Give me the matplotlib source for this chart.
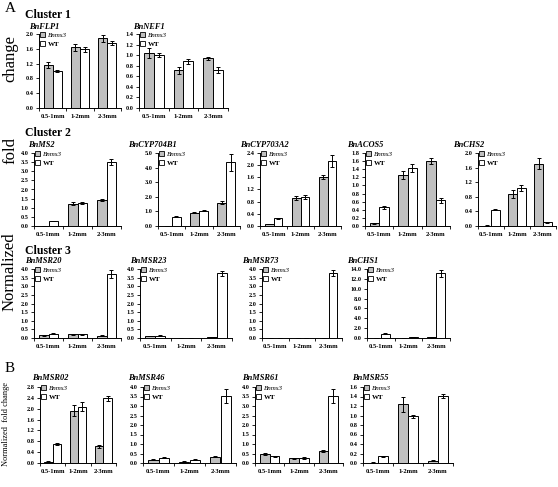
import matplotlib
matplotlib.use('Agg')
import matplotlib.pyplot as plt
from matplotlib.patches import Patch
import numpy as np

plt.rcParams['font.family'] = ['Liberation Serif', 'DejaVu Serif']

stages = ['0.5-1mm', '1-2mm', '2-3mm']
series = ['Bnms3', 'WT']

genes = ['BnFLP1', 'BnNEF1',
         'BnMS2', 'BnCYP704B1', 'BnCYP703A2', 'BnACOS5', 'BnCHS2',
         'BnMSR20', 'BnMSR23', 'BnMSR73', 'BnCHS1',
         'BnMSR02', 'BnMSR46', 'BnMSR61', 'BnMSR55']

bnms3 = [[1.17, 1.64, 1.88], [1.04, 0.71, 0.94],
         [0.02, 1.22, 1.42], [0.02, 0.92, 1.60], [0.06, 0.93, 1.60],
         [0.07, 1.26, 1.60], [0.01, 0.88, 1.70],
         [0.15, 0.22, 0.14], [0.12, 0.02, 0.05], [0.02, 0.02, 0.02],
         [0.05, 0.05, 0.15],
         [0.05, 1.92, 0.62], [0.17, 0.07, 0.33], [0.47, 0.25, 0.65],
         [0.01, 1.24, 0.05]]
bnms3_err = [[0.08, 0.10, 0.10], [0.10, 0.06, 0.03],
             [0.005, 0.08, 0.05], [0.01, 0.05, 0.10], [0.01, 0.06, 0.07],
             [0.01, 0.10, 0.07], [0.005, 0.10, 0.15],
             [0.02, 0.02, 0.02], [0.02, 0.005, 0.01], [0.005, 0.005, 0.005],
             [0.02, 0.02, 0.05],
             [0.01, 0.20, 0.06], [0.02, 0.01, 0.02], [0.06, 0.02, 0.05],
             [0.005, 0.16, 0.01]]
wt = [[0.99, 1.59, 1.76], [1.00, 0.88, 0.72],
      [0.28, 1.25, 3.50], [0.65, 1.05, 4.35], [0.25, 0.95, 2.15],
      [0.46, 1.42, 0.63], [0.45, 1.04, 0.10],
      [0.25, 0.22, 3.72], [0.12, 0.02, 3.75], [0.02, 0.02, 3.75],
      [0.85, 0.20, 13.1],
      [0.69, 2.08, 2.38], [0.28, 0.18, 3.52], [0.35, 0.27, 3.52],
      [0.14, 0.98, 1.41]]
wt_err = [[0.03, 0.07, 0.06], [0.04, 0.05, 0.06],
          [0.02, 0.07, 0.15], [0.04, 0.04, 0.55], [0.02, 0.07, 0.20],
          [0.03, 0.10, 0.06], [0.02, 0.07, 0.01],
          [0.02, 0.02, 0.22], [0.03, 0.005, 0.15], [0.005, 0.005, 0.18],
          [0.10, 0.05, 0.70],
          [0.04, 0.18, 0.10], [0.02, 0.02, 0.35], [0.03, 0.05, 0.35],
          [0.01, 0.04, 0.05]]
y_max = [2.0, 1.4, 4.0, 5.0, 2.4, 1.8, 2.0, 4.0, 4.0, 4.0, 14.0, 2.8, 4.0, 4.0, 1.6]
y_step = [0.4, 0.2, 0.5, 1.0, 0.4, 0.2, 0.4, 0.5, 0.5, 0.5, 2.0, 0.4, 0.5, 0.5, 0.2]

W, H = 558, 487
GRAY = '#c0c0c0'

# panel boxes in pixels: left, right, row; rows give top (y max) and bottom (y = 0)
rows = [(34, 108), (153, 226), (269, 338), (387, 463)]
boxes = [(39, 121, 0), (139, 228, 0),
         (34, 121, 1), (158, 240, 1), (260, 341, 1), (365, 450, 1), (478, 556, 1),
         (34, 121, 2), (140, 232, 2), (262, 342, 2), (367, 450, 2),
         (40, 116, 3), (143, 236, 3), (255, 343, 3), (363, 453, 3)]
title_x = [29, 133, 28, 128, 240, 347, 453, 25, 130, 242, 347, 32, 128, 242, 352]
title_y = [27, 145, 261, 378]

fig = plt.figure(figsize=(W / 100, H / 100), dpi=100)

def fx(px):
    return px / W

def fy(py):
    return 1 - py / H

x = np.arange(len(stages))
bw = 0.33
ekw = dict(elinewidth=0.7, capsize=1.5, capthick=0.7)
for i, g in enumerate(genes):
    l, r, row = boxes[i]
    top, zero = rows[row]
    ax = fig.add_axes([fx(l), fy(zero), (r - l) / W, (zero - top) / H])
    ax.bar(x - bw / 2, bnms3[i], bw, yerr=bnms3_err[i], color=GRAY, edgecolor='black',
           linewidth=0.7, error_kw=ekw)
    ax.bar(x + bw / 2, wt[i], bw, yerr=wt_err[i], color='white', edgecolor='black',
           linewidth=0.7, error_kw=ekw)
    ax.set_xlim(-0.5, 2.5)
    ax.set_ylim(0, y_max[i])
    ticks = np.arange(0, y_max[i] + y_step[i] / 2, y_step[i])
    ax.set_yticks(ticks)
    ax.set_yticklabels([f'{t:.1f}' for t in ticks], fontsize=4.5, fontweight='bold')
    ax.set_xticks(x)
    ax.set_xticklabels(stages, fontsize=4.7, fontweight='bold')
    ax.set_xticks([-0.5, 0.5, 1.5, 2.5], minor=True)
    ax.tick_params(axis='x', which='major', length=0, pad=4.5)
    ax.tick_params(axis='x', which='minor', length=2, width=0.6, direction='out')
    ax.tick_params(axis='y', length=2, width=0.6, direction='out', pad=2)
    for s in ['top', 'right']:
        ax.spines[s].set_visible(False)
    for s in ['left', 'bottom']:
        ax.spines[s].set_linewidth(0.7)
    handles = [Patch(facecolor=GRAY, edgecolor='black', linewidth=0.6),
               Patch(facecolor='white', edgecolor='black', linewidth=0.6)]
    leg = ax.legend(handles, series, loc='upper left', bbox_to_anchor=(0.0, 1.04),
                    frameon=False, fontsize=5, handlelength=0.8, handleheight=0.8,
                    handletextpad=0.4, labelspacing=0.45, borderaxespad=0, borderpad=0.1)
    leg.get_texts()[0].set_style('italic')
    leg.get_texts()[1].set_fontweight('bold')
    fig.text(fx(title_x[i]), fy(title_y[row]), g, fontsize=6, fontweight='bold',
             style='italic', va='center', ha='left')

fig.text(fx(5), fy(8), 'A', fontsize=11, va='center', ha='left')
fig.text(fx(5), fy(368), 'B', fontsize=11, va='center', ha='left')
fig.text(fx(25), fy(15), 'Cluster 1', fontsize=8.5, fontweight='bold', va='center')
fig.text(fx(25), fy(133), 'Cluster 2', fontsize=8.5, fontweight='bold', va='center')
fig.text(fx(25), fy(251), 'Cluster 3', fontsize=8.5, fontweight='bold', va='center')

fig.text(fx(10), fy(58), 'change', fontsize=12, rotation=90, va='center', ha='center')
fig.text(fx(10), fy(150), 'fold', fontsize=12, rotation=90, va='center', ha='center')
fig.text(fx(10), fy(272), 'Normalized', fontsize=12, rotation=90, va='center', ha='center')
fig.text(fx(6), fy(424), 'Normalized  fold change', fontsize=6, rotation=90,
         va='center', ha='center')

fig.savefig('out.png', dpi=100)
